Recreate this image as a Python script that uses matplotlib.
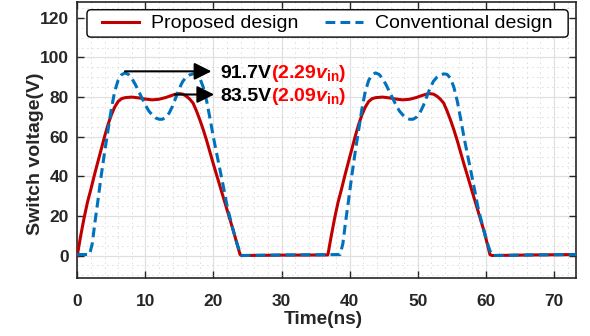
import matplotlib
matplotlib.use("Agg")
import matplotlib.pyplot as plt
from matplotlib.ticker import MultipleLocator
from matplotlib.patches import FancyBboxPatch

plt.rcParams['font.family'] = ['Liberation Sans', 'DejaVu Sans']
plt.rcParams['mathtext.fontset'] = 'custom'
plt.rcParams['mathtext.rm'] = 'Liberation Sans:bold'
plt.rcParams['mathtext.it'] = 'Liberation Sans:bold:italic'
plt.rcParams['mathtext.bf'] = 'Liberation Sans:bold'

# ---- data ----
prop_t = [0, 0.5, 1, 1.5, 2, 2.5, 3, 3.5, 4, 4.5, 5, 5.5, 6, 6.5, 7, 8, 9, 10, 11, 12, 13, 14,
          14.8, 15.5, 16, 16.5, 17, 17.5, 18, 18.5, 19, 19.5, 20, 21, 22, 23, 23.9, 24.1,
          30, 36.8, 37.3, 37.8, 38.3, 38.8, 39.3, 39.8, 40.3, 40.8, 41.3, 41.8, 42.3, 42.8,
          43.3, 43.8, 44.8, 45.8, 46.8, 47.8, 48.8, 49.8, 50.8, 51.6, 52.3, 52.8, 53.3, 53.8,
          54.3, 54.8, 55.3, 55.8, 56.3, 56.8, 57.8, 58.8, 59.8, 60.6, 60.9, 67, 73.3]
prop_v = [0, 10, 19, 27, 33.5, 40.5, 47, 53.5, 60, 66, 71, 75, 77.8, 79.2, 79.7, 80, 79.6, 79,
          78.6, 78.9, 79.8, 81, 81.8, 81.5, 80.5, 79, 77, 73, 68.5, 63.5, 58, 52, 46, 34.5, 23,
          11.5, 0.5, 0, 0.2, 0.3, 10, 19, 27, 33.5, 40.5, 47, 53.5, 60, 66, 71, 75, 77.8, 79.2,
          79.7, 80, 79.6, 79, 78.6, 78.9, 79.8, 81, 81.8, 81.5, 80.5, 79, 77, 73, 68.5, 63.5,
          58, 52, 46, 34.5, 23, 11.5, 0.5, 0, 0.3, 0.5]

conv_t = [0, 1.8, 2.2, 2.6, 3, 3.5, 4, 4.5, 5, 5.5, 6, 6.5, 7, 7.5, 8, 8.5, 9, 9.5, 10, 10.5, 11,
          11.5, 12, 12.5, 13, 13.5, 14, 14.5, 15, 15.5, 16, 16.5, 17, 17.5, 18, 18.5, 19, 19.5,
          20, 20.5, 21, 21.5, 22, 22.5, 23, 23.5, 24, 24.2, 31, 38.6, 39.0, 39.4, 39.8, 40.3,
          40.8, 41.3, 41.8, 42.3, 42.8, 43.3, 43.8, 44.3, 44.8, 45.3, 45.8, 46.3, 46.8, 47.3,
          47.8, 48.3, 48.8, 49.3, 49.8, 50.3, 50.8, 51.3, 51.8, 52.3, 52.8, 53.3, 53.8, 54.3,
          54.8, 55.3, 55.8, 56.3, 56.8, 57.3, 57.8, 58.3, 58.8, 59.3, 59.8, 60.3, 60.8, 61.0,
          67, 73.3]
conv_v = [0.5, 0.5, 6, 17, 27, 40, 52, 63, 74, 83, 88.5, 91.3, 92.2, 91.5, 89.5, 86.5, 83, 79.5,
          76, 73, 71, 69.5, 68.8, 68.8, 69.8, 72, 75.5, 80, 84.5, 88, 90, 91.2, 91.7, 91.5, 89.5,
          85, 78, 69, 59.5, 51, 42.5, 34, 25, 18, 11.5, 5.5, 0.5, 0, 0.3, 0.5, 6, 17, 27, 40, 52,
          63, 74, 83, 88.5, 91.3, 92.2, 91.5, 89.5, 86.5, 83, 79.5, 76, 73, 71, 69.5, 68.8, 68.8,
          69.8, 72, 75.5, 80, 84.5, 88, 90, 91.2, 91.7, 91.5, 89.5, 85, 78, 69, 59.5, 51, 42.5,
          34, 25, 18, 11.5, 5.5, 0.5, 0, 0.3, 0.5]

series_names = ["Proposed design", "Conventional design"]
x_ticks = [0, 10, 20, 30, 40, 50, 60, 70]
y_ticks = [0, 20, 40, 60, 80, 100, 120]
ann_values = ["91.7V", "83.5V"]
ann_ratios = [r"(2.29$v_{\rm in}$)", r"(2.09$v_{\rm in}$)"]
ann_y = [93, 81.3]
ann_start = [7.0, 14.35]
ann_end = [19.7, 20.1]

# ---- figure ----
fig = plt.figure(figsize=(5.9, 3.36), dpi=100)
ax = fig.add_axes([0.131, 0.1717, 0.846, 0.8223])

ax.plot(prop_t, prop_v, color='#C00000', lw=2.2, label=series_names[0], zorder=3)
ax.plot(conv_t, conv_v, color='#0072BD', lw=2.2, ls=(0, (3.2, 1.7)), label=series_names[1], zorder=4)

ax.set_xlim(0, 73.3)
ax.set_ylim(-11.5, 128)
ax.set_xticks(x_ticks)
ax.set_yticks(y_ticks)
ax.xaxis.set_minor_locator(MultipleLocator(2))
ax.yaxis.set_minor_locator(MultipleLocator(5))
ax.grid(which='major', color='#E0E0E0', lw=0.9, ls='-')
ax.grid(which='minor', color='#B8B8B8', lw=0.6, ls=(0, (1, 5)))
ax.set_axisbelow(True)
ax.tick_params(which='major', direction='in', top=True, right=True, length=5, width=1,
               color='#262626', labelsize=12.5, labelcolor='#262626')
ax.tick_params(axis='x', pad=11)
ax.tick_params(axis='y', pad=6)
ax.tick_params(which='minor', length=0)
for lab in ax.get_xticklabels() + ax.get_yticklabels():
    lab.set_fontweight('bold')
for sp in ax.spines.values():
    sp.set_color('#262626')
    sp.set_linewidth(1.2)

ax.set_xlabel("Time(ns)", fontsize=13.7, fontweight='bold', color='#262626')
ax.set_ylabel("Switch voltage(V)", fontsize=14, fontweight='bold', color='#262626')
ax.xaxis.set_label_coords(0.493, -0.117)
ax.yaxis.set_label_coords(-0.067, 0.452)

# legend frame drawn separately, entries placed without their own frame
frame = FancyBboxPatch((0.0194, 0.873), 0.964, 0.099, transform=ax.transAxes,
                       boxstyle='round,pad=0,rounding_size=0.008', facecolor='white',
                       edgecolor='black', lw=1.0, zorder=8, mutation_aspect=1.8)
ax.add_patch(frame)
leg = ax.legend(loc='center left', bbox_to_anchor=(0.0489, 0.922), ncol=2, fontsize=14,
                frameon=False, handlelength=1.93, handletextpad=0.62, borderaxespad=0,
                borderpad=0, columnspacing=1.37)
leg.set_zorder(9)

for i in range(2):
    ax.annotate('', xy=(ann_end[i], ann_y[i]), xytext=(ann_start[i], ann_y[i]),
                arrowprops=dict(arrowstyle='-|>', color='black', lw=1.5, mutation_scale=26,
                                shrinkA=0, shrinkB=0), zorder=6)

fig.canvas.draw()
renderer = fig.canvas.get_renderer()
for i in range(2):
    yb = ann_y[i] - 3.4
    t1 = ax.text(20.95, yb, ann_values[i], fontsize=14, fontweight='bold',
                 color='black', va='baseline', ha='left', zorder=7)
    fig.canvas.draw()
    bb = t1.get_window_extent(renderer)
    xd = ax.transData.inverted().transform((bb.x1, 0))[0]
    ax.text(xd, yb, ann_ratios[i], fontsize=14, fontweight='bold',
            color='#FF0000', va='baseline', ha='left', zorder=7)

fig.savefig("out.png", dpi=100)
